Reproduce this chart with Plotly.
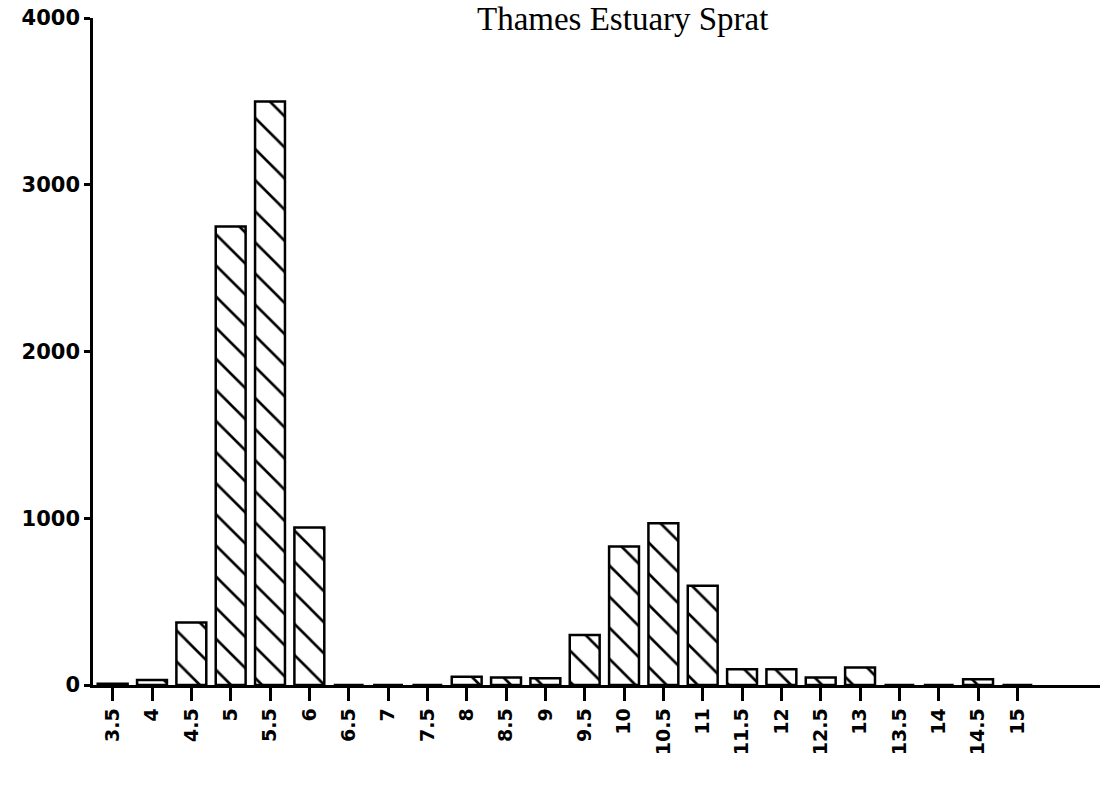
import plotly.graph_objects as go

lengths = ["3.5", "4", "4.5", "5", "5.5", "6", "6.5", "7", "7.5", "8", "8.5", "9",
           "9.5", "10", "10.5", "11", "11.5", "12", "12.5", "13", "13.5", "14", "14.5", "15"]
numbers = [8, 30, 375, 2750, 3500, 945, 0, 0, 0, 50, 45, 40,
           300, 830, 970, 595, 95, 95, 45, 105, 0, 0, 35, 0]
y_ticks = [0, 1000, 2000, 3000, 4000]
title_text = "Thames Estuary Sprat"

positions = list(range(len(lengths)))

fig = go.Figure()
fig.add_trace(go.Bar(
    x=positions, y=numbers, width=0.76,
    marker=dict(color="white", line=dict(color="black", width=2.5),
                pattern=dict(shape="\\", fgcolor="black", bgcolor="white", fgopacity=1,
                             size=22, solidity=0.12, fillmode="replace")),
))

x_font = dict(family="DejaVu Sans", size=19, color="black", weight="bold")
y_font = dict(family="DejaVu Sans", size=21, color="black", weight="bold")

fig.update_layout(
    width=1112, height=785,
    margin=dict(l=93, r=12, t=18, b=100),
    paper_bgcolor="white", plot_bgcolor="white",
    showlegend=False,
    xaxis=dict(range=[-0.5, 25.1], tickmode="array", tickvals=positions, ticktext=lengths,
               tickangle=-90, ticks="outside", ticklen=13, tickwidth=2.5, tickcolor="black",
               showline=True, linecolor="black", linewidth=2.5, showgrid=False, zeroline=False,
               tickfont=x_font, automargin=False),
    yaxis=dict(range=[0, 4000], tickmode="array", tickvals=y_ticks,
               ticks="outside", ticklen=6, tickwidth=2.5, tickcolor="black",
               showline=True, linecolor="black", linewidth=2.5, showgrid=False, zeroline=False,
               tickfont=y_font, automargin=False),
    annotations=[dict(text=title_text, xref="paper", yref="paper", x=0.526, y=1.0,
                      xanchor="center", yanchor="top", yshift=19, showarrow=False,
                      font=dict(family="Liberation Serif", size=33, color="black"))],
)

fig.write_html("out.html", config={"displayModeBar": False},
               post_script="document.body.style.margin='0';")
